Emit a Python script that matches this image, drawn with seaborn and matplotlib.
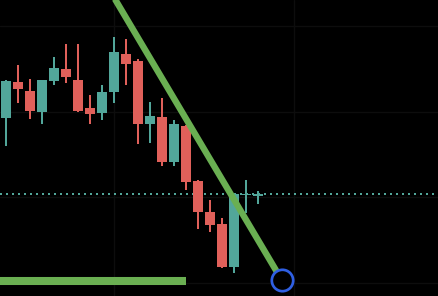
import matplotlib
matplotlib.use("Agg")
import matplotlib.pyplot as plt
import seaborn as sns
import numpy as np
import pandas as pd

# OHLC series (one candle per bar index)
opens  = [119.28, 123.45, 122.40, 119.99, 123.60, 124.97, 123.68, 120.42, 119.87, 122.32, 126.72,
          125.90, 118.59, 119.37, 114.15, 118.32, 111.94, 108.32, 106.88, 101.90, 110.27, 110.27]
highs  = [123.68, 125.43, 123.80, 123.68, 126.37, 127.88, 127.88, 121.94, 123.10, 128.70, 128.47,
          126.13, 121.12, 121.58, 119.02, 118.43, 112.02, 109.68, 107.58, 110.33, 112.02, 110.73]
lows   = [116.02, 121.04, 119.17, 118.59, 123.14, 123.37, 119.99, 118.59, 119.05, 121.04, 123.14,
          116.25, 116.37, 113.69, 113.69, 110.89, 106.34, 105.99, 101.79, 101.20, 108.17, 109.22]
closes = [123.57, 122.67, 120.10, 123.68, 125.08, 124.07, 120.07, 119.75, 122.28, 126.95, 125.59,
          118.59, 119.48, 114.15, 118.55, 111.82, 108.32, 106.80, 101.87, 110.33, 110.38, 110.33]

# Drawing annotations
trend_x = [8.0, 23.0]
trend_y = [135.67, 100.3]
support_x = [-0.5, 15.0]
support_y = [100.2, 100.2]
marker_x = [23.0]
marker_y = [100.3]

UP = "#52a69a"
DOWN = "#e0605a"
GREEN = "#6aaf52"
BLUE = "#2f5fe3"
BG = "#000000"
GRID = "#0d0d0d"

sns.set_theme(style="dark", rc={"axes.facecolor": BG, "figure.facecolor": BG})

df = pd.DataFrame({"open": opens, "high": highs, "low": lows, "close": closes})
df["x"] = np.arange(len(df))
df["up"] = df["close"] >= df["open"]
df["color"] = np.where(df["up"], UP, DOWN)
min_body = 0.23
df["bottom"] = df[["open", "close"]].min(axis=1)
df["height"] = (df["close"] - df["open"]).abs().clip(lower=min_body)
df.loc[df["height"] == min_body, "bottom"] = (df["open"] + df["close"]) / 2 - min_body / 2

fig = plt.figure(figsize=(4.38, 2.96), dpi=100)
ax = fig.add_axes([0, 0, 1, 1])
ax.set_facecolor(BG)
ax.axis("off")

# faint grid
for gy in [100, 110, 120, 130]:
    ax.axhline(gy, color=GRID, lw=1.0, zorder=0)
for gx in [9, 24]:
    ax.axvline(gx, color=GRID, lw=1.0, zorder=0)

# wicks and bodies
ax.vlines(df["x"], df["low"], df["high"], colors=df["color"], lw=1.44, zorder=2)
ax.bar(df["x"], df["height"], bottom=df["bottom"], width=0.833,
       color=df["color"], linewidth=0, zorder=3)

# last price line
ax.axhline(closes[-1], color=UP, lw=1.44, linestyle=(0, (1, 2)), zorder=1)

# trend line, support line and marker
sns.lineplot(x=trend_x, y=trend_y, ax=ax, color=GREEN, lw=4.6,
             solid_capstyle="butt", zorder=4, legend=False)
sns.lineplot(x=support_x, y=support_y, ax=ax, color=GREEN, lw=5.8,
             solid_capstyle="butt", zorder=4, legend=False)
ax.plot(marker_x, marker_y, marker="o", markersize=15.4, markerfacecolor=BG,
        markeredgecolor=BLUE, markeredgewidth=1.95, linestyle="none", zorder=5)

ax.set_xlim(-0.5, 36.0)
ax.set_ylim(98.483, 133.018)
fig.savefig("out.png", dpi=100, facecolor=BG)
